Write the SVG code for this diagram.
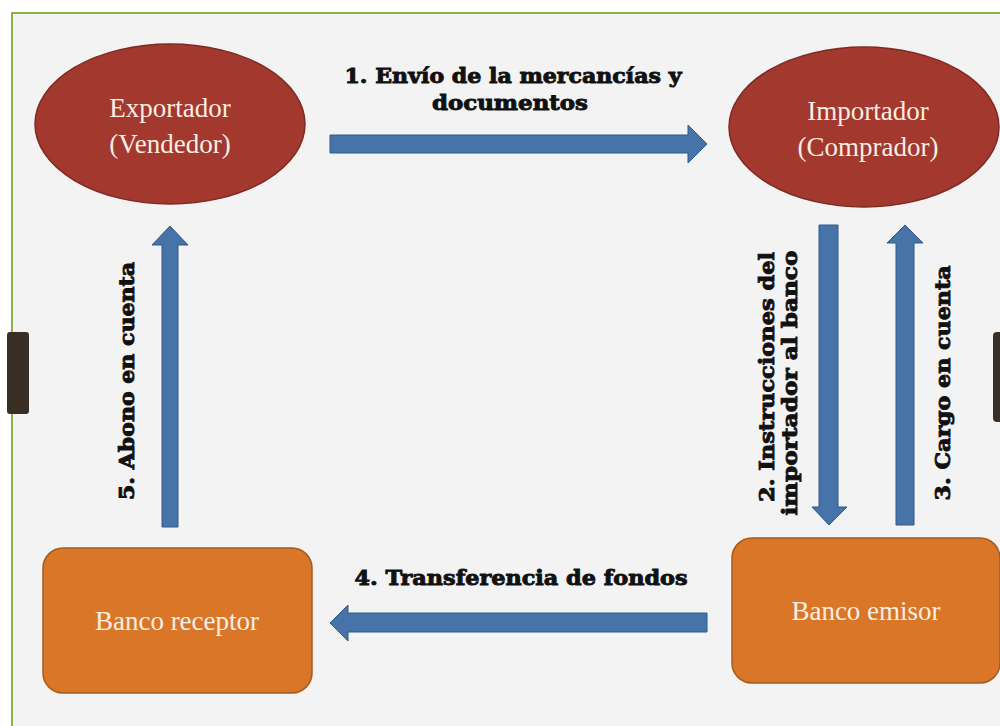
<svg xmlns="http://www.w3.org/2000/svg" width="1000" height="726" viewBox="0 0 1000 726">
<style>
.ell{fill:#a3382f;stroke:#7d2a22;stroke-width:1.5}
.box{fill:#d97627;stroke:#a65a1c;stroke-width:1.5}
.lbl{font-family:"Liberation Serif","DejaVu Serif",serif;font-size:27px;fill:#fbeee2;text-anchor:middle}
.arr{fill:#4673a8;stroke:#315a88;stroke-width:1}
.cap{font-family:"DejaVu Serif","Liberation Serif",serif;font-weight:bold;font-size:20px;fill:#111;stroke:#111;stroke-width:0.9;text-anchor:middle}
</style>
<rect x="0" y="0" width="1000" height="726" fill="#ffffff"/>
<rect x="12" y="13" width="1000" height="730" fill="#f3f3f3" stroke="#8fae4a" stroke-width="2"/>
<rect x="7" y="332" width="22" height="82" rx="3" fill="#3a2f26"/>
<rect x="993" y="332" width="14" height="90" rx="4" fill="#3a2f26"/>

<g id="exportador">
<ellipse class="ell" cx="170" cy="124" rx="135" ry="80"/>
<text class="lbl" x="170" y="117">Exportador</text>
<text class="lbl" x="170" y="153">(Vendedor)</text>
</g>
<g id="importador">
<ellipse class="ell" cx="864" cy="127" rx="135" ry="80"/>
<text class="lbl" x="868" y="120">Importador</text>
<text class="lbl" x="868" y="156">(Comprador)</text>
</g>
<g id="banco-emisor">
<rect class="box" x="732" y="538" width="268" height="145" rx="20"/>
<text class="lbl" x="866" y="620">Banco emisor</text>
</g>
<g id="banco-receptor">
<rect class="box" x="43" y="548" width="269" height="145" rx="20"/>
<text class="lbl" x="177" y="630">Banco receptor</text>
</g>

<g id="connectors">
<polygon class="arr" points="330,135 688,135 688,125 707,144 688,163 688,153 330,153"/>
<polygon class="arr" points="707,613 348,613 348,605 330,623 348,641 348,632 707,632"/>
<polygon class="arr" points="162,527 162,245 152,245 170,226 188,245 178,245 178,527"/>
<polygon class="arr" points="819,225 838,225 838,507 847,507 829,525 812,507 819,507"/>
<polygon class="arr" points="896,525 896,243 887,243 905,225 923,243 914,243 914,525"/>
</g>

<g id="labels">
<text class="cap" x="513" y="83" textLength="337" lengthAdjust="spacingAndGlyphs">1. Envío de la mercancías y</text>
<text class="cap" x="510" y="110" textLength="156" lengthAdjust="spacingAndGlyphs">documentos</text>
<text class="cap" x="521" y="585" textLength="333" lengthAdjust="spacingAndGlyphs">4. Transferencia de fondos</text>
<text class="cap" transform="translate(134,381) rotate(-90)" textLength="238" lengthAdjust="spacingAndGlyphs">5. Abono en cuenta</text>
<text class="cap" transform="translate(774,377) rotate(-90)" textLength="250" lengthAdjust="spacingAndGlyphs">2. Instrucciones del</text>
<text class="cap" transform="translate(797,383) rotate(-90)" textLength="265" lengthAdjust="spacingAndGlyphs">importador al banco</text>
<text class="cap" transform="translate(950,383) rotate(-90)" textLength="235" lengthAdjust="spacingAndGlyphs">3. Cargo en cuenta</text>
</g>
</svg>
